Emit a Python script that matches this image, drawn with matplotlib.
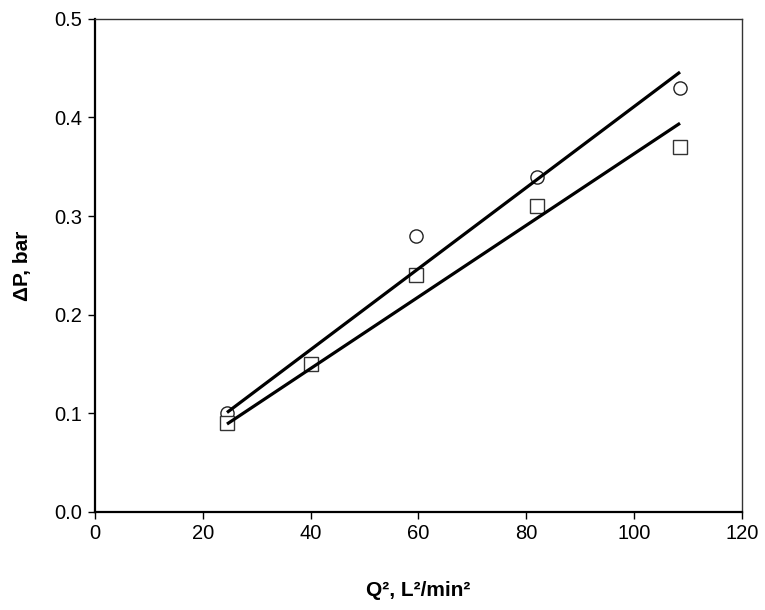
import numpy as np
import matplotlib.pyplot as plt

plt.rcParams['font.family'] = ['Liberation Sans', 'DejaVu Sans']

# Q^2 values (L^2/min^2) and pressure drops (bar)
q2 = [24.5, 40.0, 59.5, 82.0, 108.5]
dp_circle = [0.10, 0.15, 0.28, 0.34, 0.43]
dp_square = [0.09, 0.15, 0.24, 0.31, 0.37]

fig = plt.figure(figsize=(7.65, 6.1), dpi=100)
ax = fig.add_axes([0.124, 0.161, 0.846, 0.808])

x = np.array(q2)
xx = np.array([x.min(), x.max()])
for dp in (dp_circle, dp_square):
    y = np.array(dp)
    # trendline forced through the origin
    k = (x * y).sum() / (x * x).sum()
    ax.plot(xx, k * xx, color='black', lw=2.3, zorder=3, solid_capstyle='butt')

ax.plot(q2, dp_circle, ls='none', marker='o', ms=9.5, mfc='white',
        mec='#222222', mew=1.0, zorder=2)
ax.plot(q2, dp_square, ls='none', marker='s', ms=10.5, mfc='white',
        mec='#333333', mew=1.0, zorder=2)

ax.set_xlim(0, 120)
ax.set_ylim(0, 0.5)
ax.set_xticks(np.arange(0, 121, 20))
ax.set_yticks(np.arange(0, 0.51, 0.1))
ax.set_yticklabels(['%.1f' % v for v in np.arange(0, 0.51, 0.1)])
ax.tick_params(direction='out', length=5, width=1, labelsize=14.5, pad=4)

for s in ['left', 'bottom']:
    ax.spines[s].set_linewidth(1.6)
    ax.spines[s].set_color('black')
for s in ['right', 'top']:
    ax.spines[s].set_linewidth(1.0)
    ax.spines[s].set_color('#333333')

ax.set_xlabel('Q², L²/min²', fontsize=15, fontweight='bold', labelpad=27)
ax.set_ylabel('ΔP, bar', fontsize=15, fontweight='bold', labelpad=16)

fig.savefig('out.png', dpi=100)
